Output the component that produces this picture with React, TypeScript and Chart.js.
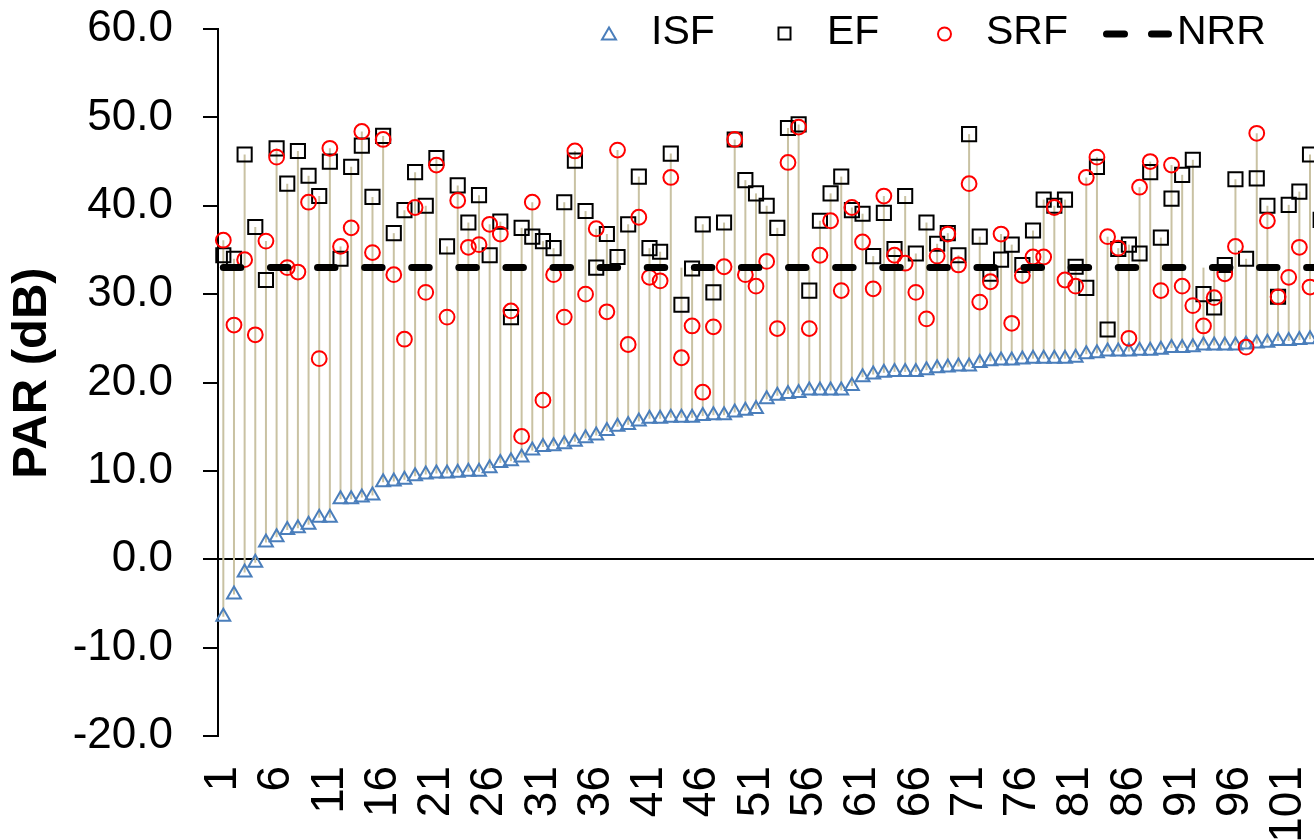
import React, { useEffect, useRef } from "react";
import { Chart, registerables } from "chart.js";

Chart.register(...registerables);

// Sample numbers along the x axis
const CATEGORIES = [
  "1", "2", "3", "4", "5", "6", "7", "8", "9", "10",
  "11", "12", "13", "14", "15", "16", "17", "18", "19", "20",
  "21", "22", "23", "24", "25", "26", "27", "28", "29", "30",
  "31", "32", "33", "34", "35", "36", "37", "38", "39", "40",
  "41", "42", "43", "44", "45", "46", "47", "48", "49", "50",
  "51", "52", "53", "54", "55", "56", "57", "58", "59", "60",
  "61", "62", "63", "64", "65", "66", "67", "68", "69", "70",
  "71", "72", "73", "74", "75", "76", "77", "78", "79", "80",
  "81", "82", "83", "84", "85", "86", "87", "88", "89", "90",
  "91", "92", "93", "94", "95", "96", "97", "98", "99", "100",
  "101", "102", "103", "104",
];

// PAR (dB) per sample
const ISF = [
  -6.5, -4.0, -1.5, -0.4, 1.9, 2.5, 3.3, 3.5, 3.9, 4.7,
  4.7, 6.8, 6.8, 7.0, 7.2, 8.7, 8.8, 9.0, 9.4, 9.6,
  9.7, 9.7, 9.8, 9.9, 9.9, 10.3, 10.9, 11.1, 11.5, 12.3,
  12.7, 12.8, 13.0, 13.3, 13.7, 14.0, 14.5, 15.0, 15.2, 15.6,
  15.9, 15.9, 16.0, 16.0, 16.0, 16.2, 16.3, 16.3, 16.6, 16.8,
  17.0, 18.1, 18.5, 18.7, 18.8, 19.1, 19.1, 19.1, 19.1, 19.6,
  20.6, 20.9, 21.1, 21.2, 21.2, 21.2, 21.4, 21.6, 21.7, 21.8,
  21.8, 22.2, 22.4, 22.5, 22.5, 22.6, 22.7, 22.7, 22.7, 22.7,
  22.8, 23.2, 23.3, 23.5, 23.5, 23.5, 23.6, 23.6, 23.7, 23.9,
  23.9, 24.0, 24.2, 24.2, 24.2, 24.2, 24.3, 24.4, 24.5, 24.7,
  24.7, 24.8, 24.9, 25.0,
];

const EF = [
  34.4, 34.0, 45.8, 37.6, 31.6, 46.5, 42.5, 46.2, 43.4, 41.1,
  45.0, 34.0, 44.4, 46.8, 41.0, 47.9, 36.9, 39.5, 43.8, 40.0,
  45.4, 35.4, 42.3, 38.1, 41.2, 34.4, 38.2, 27.4, 37.5, 36.5,
  36.0, 35.2, 40.4, 45.1, 39.4, 33.0, 36.8, 34.2, 37.9, 43.3,
  35.2, 34.8, 45.9, 28.8, 32.9, 37.9, 30.2, 38.1, 47.5, 42.9,
  41.4, 40.0, 37.5, 48.8, 49.2, 30.4, 38.3, 41.4, 43.3, 39.5,
  39.1, 34.3, 39.2, 35.1, 41.1, 34.6, 38.1, 35.7, 36.9, 34.4,
  48.1, 36.5, 32.3, 33.9, 35.6, 33.3, 37.2, 40.7, 40.0, 40.7,
  33.1, 30.7, 44.4, 26.0, 35.1, 35.6, 34.6, 43.8, 36.4, 40.8,
  43.5, 45.2, 30.0, 28.5, 33.3, 43.0, 34.0, 43.1, 40.0, 29.7,
  40.1, 41.6, 45.8, 38.4,
];

const SRF = [
  36.1, 26.5, 33.9, 25.4, 36.0, 45.5, 33.0, 32.5, 40.4, 22.7,
  46.5, 35.4, 37.5, 48.4, 34.7, 47.5, 32.2, 24.9, 39.8, 30.2,
  44.6, 27.4, 40.6, 35.3, 35.6, 37.9, 36.8, 28.1, 13.9, 40.4,
  18.0, 32.2, 27.4, 46.2, 30.0, 37.4, 28.0, 46.3, 24.3, 38.7,
  31.9, 31.5, 43.2, 22.8, 26.4, 18.9, 26.3, 33.1, 47.5, 32.2,
  30.9, 33.7, 26.1, 44.9, 48.9, 26.1, 34.4, 38.3, 30.4, 39.8,
  35.9, 30.6, 41.1, 34.4, 33.5, 30.2, 27.2, 34.3, 36.8, 33.3,
  42.5, 29.1, 31.4, 36.8, 26.7, 32.1, 34.2, 34.2, 39.8, 31.6,
  30.9, 43.2, 45.5, 36.5, 35.2, 25.0, 42.1, 45.0, 30.4, 44.6,
  30.9, 28.7, 26.4, 29.6, 32.3, 35.4, 24.0, 48.2, 38.3, 29.7,
  31.9, 35.3, 30.8, null,
];

// Noise reduction rating, a constant reference level
const NRR_LEVEL = 33.0;

const Y_MIN = -20;
const Y_MAX = 60;
const Y_STEP = 10;
const LABEL_EVERY = 5;

const FONT = "'Liberation Sans', Arial, Helvetica, sans-serif";
const CANVAS_W = 1326;
const CANVAS_H = 880;
const PLOT_LEFT = 218;
const PLOT_TOP = 29;
const PLOT_BOTTOM = 736;

const BLUE = "#4A7EBB";
const RED = "#FF0000";
const STEM = "#C9C2A3";

// Vertical high-low lines joining the lowest and highest value of each sample
const highLowLines = {
  id: "highLowLines",
  beforeDatasetsDraw(chart: any) {
    const { ctx, scales } = chart;
    const x = scales.x;
    const y = scales.y;
    const sets = chart.data.datasets;
    ctx.save();
    ctx.strokeStyle = STEM;
    ctx.lineWidth = 2;
    for (let i = 0; i < CATEGORIES.length; i++) {
      const vals: number[] = [];
      sets.forEach((d: any) => {
        const v = d.data[i];
        if (v !== null && v !== undefined) vals.push(v);
      });
      if (vals.length < 2) continue;
      const px = x.getPixelForValue(i);
      ctx.beginPath();
      ctx.moveTo(px, y.getPixelForValue(Math.min(...vals)));
      ctx.lineTo(px, y.getPixelForValue(Math.max(...vals)));
      ctx.stroke();
    }
    ctx.restore();
  },
};

// Axis title and the legend row along the top
const titleAndLegend = {
  id: "titleAndLegend",
  afterDraw(chart: any) {
    const ctx = chart.ctx as CanvasRenderingContext2D;

    ctx.save();
    ctx.translate(32, 373);
    ctx.rotate(-Math.PI / 2);
    ctx.font = `bold 49px ${FONT}`;
    ctx.fillStyle = "#000";
    ctx.textAlign = "center";
    ctx.textBaseline = "middle";
    ctx.fillText("PAR (dB)", 0, 0);
    ctx.restore();

    ctx.save();
    const ly = 33;
    ctx.lineWidth = 2;

    // ISF triangle
    ctx.strokeStyle = BLUE;
    ctx.beginPath();
    ctx.moveTo(609, 27.5);
    ctx.lineTo(616, 39.5);
    ctx.lineTo(602, 39.5);
    ctx.closePath();
    ctx.stroke();

    // EF square
    ctx.strokeStyle = "#000";
    ctx.strokeRect(778.5, 27.5, 12, 12);

    // SRF circle
    ctx.strokeStyle = RED;
    ctx.beginPath();
    ctx.ellipse(944.5, 34, 6.5, 6.5, 0, 0, Math.PI * 2);
    ctx.stroke();

    // NRR dashes
    ctx.strokeStyle = "#000";
    ctx.lineWidth = 7;
    ctx.lineCap = "round";
    ctx.beginPath();
    ctx.moveTo(1106.5, 34);
    ctx.lineTo(1124.5, 34);
    ctx.moveTo(1151.5, 34);
    ctx.lineTo(1168.5, 34);
    ctx.stroke();

    ctx.font = `41px ${FONT}`;
    ctx.fillStyle = "#000";
    ctx.textAlign = "left";
    ctx.textBaseline = "middle";
    ctx.fillText("ISF", 651, ly);
    ctx.fillText("EF", 827, ly);
    ctx.fillText("SRF", 986, ly);
    ctx.fillText("NRR", 1177, ly);
    ctx.restore();
  },
};

export default function App() {
  const canvasRef = useRef<HTMLCanvasElement>(null);

  useEffect(() => {
    if (!canvasRef.current) return;
    const chart = new Chart(canvasRef.current, {
      type: "line",
      data: {
        labels: CATEGORIES,
        datasets: [
          {
            label: "ISF",
            data: ISF,
            showLine: false,
            pointStyle: "triangle",
            pointRadius: 8,
            pointBorderWidth: 2,
            pointBorderColor: BLUE,
            pointBackgroundColor: "rgba(0,0,0,0)",
            borderColor: BLUE,
            order: 3,
          },
          {
            label: "EF",
            data: EF,
            showLine: false,
            pointStyle: "rect",
            pointRadius: 10,
            pointBorderWidth: 2,
            pointBorderColor: "#000",
            pointBackgroundColor: "rgba(0,0,0,0)",
            borderColor: "#000",
            order: 2,
          },
          {
            label: "SRF",
            data: SRF,
            showLine: false,
            pointStyle: "circle",
            pointRadius: 7.4,
            pointBorderWidth: 2,
            pointBorderColor: RED,
            pointBackgroundColor: "rgba(0,0,0,0)",
            borderColor: RED,
            order: 1,
          },
          {
            label: "NRR",
            data: CATEGORIES.map(() => NRR_LEVEL),
            borderColor: "#000",
            borderWidth: 7,
            borderDash: [17.5, 29.6],
            borderCapStyle: "round",
            pointRadius: 0,
            fill: false,
            order: 0,
          },
        ],
      },
      options: {
        responsive: false,
        animation: false,
        events: [],
        layout: {
          autoPadding: false,
          padding: { top: PLOT_TOP, left: 0, right: 0, bottom: 0 },
        },
        plugins: {
          legend: { display: false },
          tooltip: { enabled: false },
        },
        scales: {
          x: {
            type: "category",
            offset: true,
            grid: { display: false, drawTicks: false },
            border: { display: false },
            ticks: {
              autoSkip: false,
              minRotation: 90,
              maxRotation: 90,
              padding: 30,
              color: "#000",
              font: { family: FONT, size: 46 },
              callback: (_v: any, i: number) =>
                i % LABEL_EVERY === 0 ? CATEGORIES[i] : "",
            },
            afterFit: (s: any) => {
              s.height = CANVAS_H - PLOT_BOTTOM;
              s.paddingLeft = 0;
              s.paddingRight = 0;
            },
          },
          y: {
            min: Y_MIN,
            max: Y_MAX,
            ticks: {
              stepSize: Y_STEP,
              padding: 30,
              color: "#000",
              font: { family: FONT, size: 44 },
              callback: (v: any) => Number(v).toFixed(1),
            },
            grid: {
              color: (c: any) =>
                c.tick && c.tick.value === 0 ? "#000" : "rgba(0,0,0,0)",
              lineWidth: 2,
              drawTicks: true,
              tickLength: 15,
              tickColor: "#000",
              tickWidth: 2,
            },
            border: { display: true, color: "#000", width: 2 },
            afterFit: (s: any) => {
              s.width = PLOT_LEFT;
              s.paddingTop = 0;
              s.paddingBottom = 0;
            },
          },
        },
      },
      plugins: [highLowLines, titleAndLegend],
    } as any);
    return () => chart.destroy();
  }, []);

  return (
    <div
      style={{
        position: "absolute",
        left: 0,
        top: 0,
        width: 1314,
        height: 840,
        overflow: "hidden",
        background: "#fff",
      }}
    >
      <canvas
        ref={canvasRef}
        width={CANVAS_W}
        height={CANVAS_H}
        style={{ display: "block" }}
      />
    </div>
  );
}
